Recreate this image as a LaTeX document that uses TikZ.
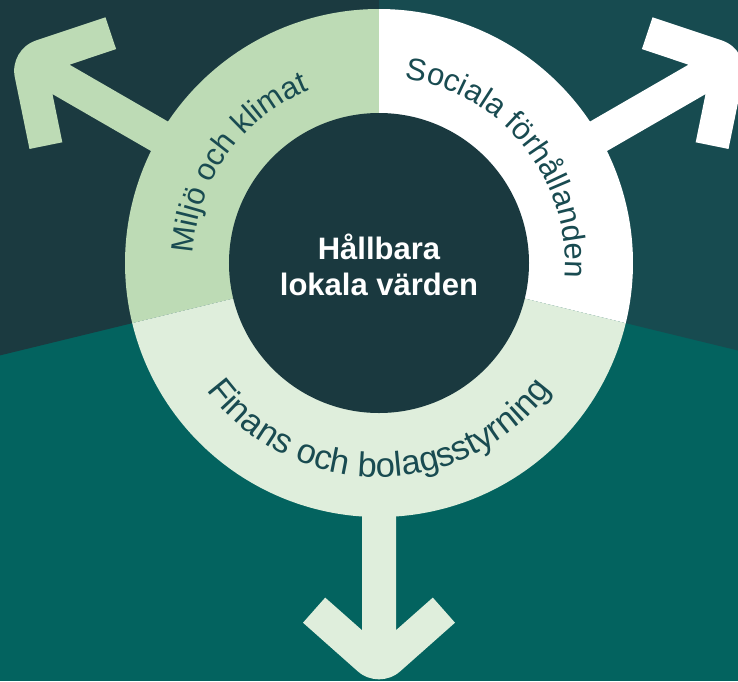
\documentclass[tikz,border=0pt]{standalone}
\usepackage{fontspec}
\setmainfont{Liberation Sans}
\usetikzlibrary{decorations.text}
\definecolor{bgleft}{HTML}{1B3A40}
\definecolor{bgright}{HTML}{174B50}
\definecolor{bgbottom}{HTML}{03635F}
\definecolor{corecol}{HTML}{1A393F}
\definecolor{miljo}{HTML}{BDDBB5}
\definecolor{sociala}{HTML}{FFFFFF}
\definecolor{finans}{HTML}{DFEEDC}
\definecolor{ringtext}{HTML}{194B51}
\newcommand{\toplabelfont}{\fontsize{31}{37}\selectfont}
\newcommand{\botlabelfont}{\fontsize{34.5}{40}\selectfont}
\newcommand{\arrowshape}{(240,17) -- (367.2,17) -- (334.6,53.8) -- (359.7,76) -- (408.3,21.2) arc[start angle=41.5, end angle=-41.5, radius=32pt] -- (359.7,-76) -- (334.6,-53.8) -- (367.2,-17) -- (240,-17) -- cycle}
\tikzset{
  ringlabel/.style={decorate, decoration={text along path, text align=center, text color=ringtext}},
  centertext/.style={text=white, font=\fontsize{31}{36}\selectfont\bfseries, inner sep=0pt, anchor=base}
}
\begin{document}
\begin{tikzpicture}[x=1pt,y=1pt]
\useasboundingbox (-379,-418) rectangle (359,263);
\clip (-379,-418) rectangle (359,263);
% background
\fill[bgbottom] (-379,-418) rectangle (359,263);
\fill[bgleft] (-379,263) -- (0,263) -- (0,0) -- (-379,-92.4) -- cycle;
\fill[bgright] (0,263) -- (359,263) -- (359,-87.5) -- (0,0) -- cycle;
% arrows
\foreach \ang/\col in {150/miljo, 30/sociala, 270/finans}{
  \begin{scope}[rotate=\ang]
    \fill[\col] \arrowshape;
  \end{scope}
}
% ring segments
\fill[miljo] (0,0) -- (90:254) arc[start angle=90, end angle=193.7, radius=254pt] -- cycle;
\fill[sociala] (0,0) -- (-13.7:254) arc[start angle=-13.7, end angle=90, radius=254pt] -- cycle;
\fill[finans] (0,0) -- (193.7:254) arc[start angle=193.7, end angle=346.3, radius=254pt] -- cycle;
% core
\node[circle, fill=corecol, minimum size=300pt, inner sep=0pt] (core) at (0,0) {};
\node[centertext] (t1) at (0,3.7) {Hållbara};
\node[centertext] (t2) at (0,-32) {lokala värden};
% ring labels
\path[ringlabel, decoration={text={|\toplabelfont|Miljö och klimat}}] (192:186) arc[start angle=192, end angle=97, radius=186pt];
\path[ringlabel, decoration={text={|\toplabelfont|Sociala förhållanden}}] (88.75:186) arc[start angle=88.75, end angle=-11.25, radius=186pt];
\path[ringlabel, decoration={text={|\botlabelfont|Finans och bolagsstyrning}}] (205:214) arc[start angle=205, end angle=335, radius=214pt];
\end{tikzpicture}
\end{document}
